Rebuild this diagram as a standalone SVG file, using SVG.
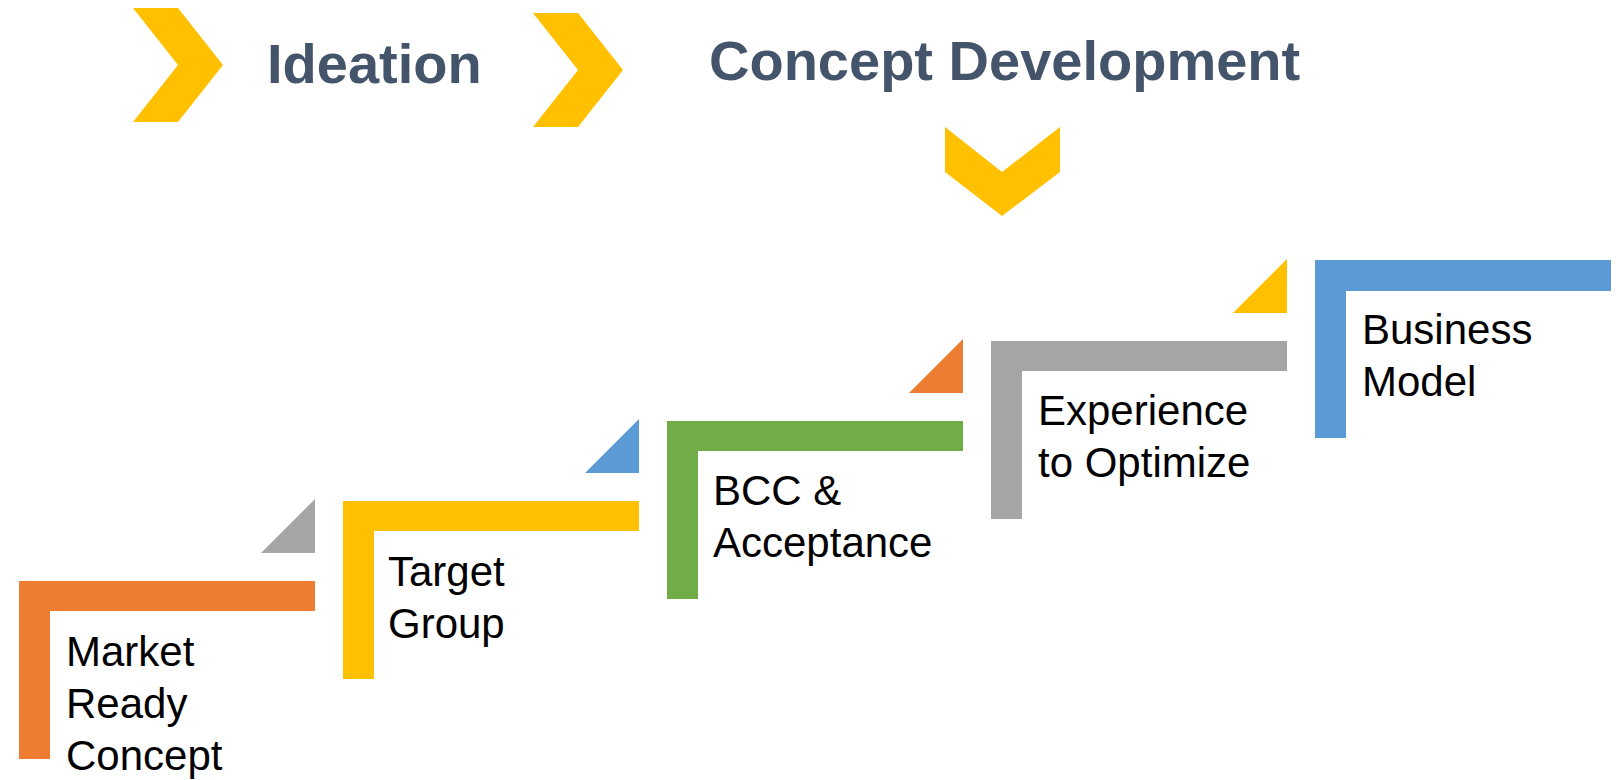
<svg xmlns="http://www.w3.org/2000/svg" width="1616" height="780" viewBox="0 0 1616 780">
<style>
.title{font-family:"Liberation Sans",Arial,sans-serif;font-weight:bold;font-size:56px;fill:#44546A}
.lbl{font-family:"Liberation Sans",Arial,sans-serif;font-size:42px;fill:#000}
.chev{fill:#FFC000}
.orange{fill:#ED7D31}.yellow{fill:#FFC000}.grey{fill:#A5A5A5}.blue{fill:#5B9BD5}.green{fill:#70AD47}
</style>
<rect width="1616" height="780" fill="#fff"/>
<g id="connectors">
<polygon class="chev" points="133,8 178,8 223,65 178,122 133,122 178,65"/>
<polygon class="chev" points="533,13 578,13 623,70 578,127 533,127 578,70"/>
<polygon class="chev" points="945,127 1002,172 1060,127 1060,172 1002,216 945,172"/>
<polygon class="grey" points="315,499 315,553 261,553"/>
<polygon class="blue" points="639,419 639,473 585,473"/>
<polygon class="orange" points="963,339 963,393 909,393"/>
<polygon class="yellow" points="1287,259 1287,313 1233,313"/>
</g>
<g id="ideation"><text class="title" x="267" y="83">Ideation</text></g>
<g id="concept-development"><text class="title" x="709" y="80">Concept Development</text></g>
<g id="market-ready-concept">
<path class="orange" d="M19,581 H315 V611 H50 V759 H19 Z"/>
<text class="lbl" x="66" y="666">Market<tspan x="66" dy="52">Ready</tspan><tspan x="66" dy="52">Concept</tspan></text>
</g>
<g id="target-group">
<path class="yellow" d="M343,501 H639 V531 H374 V679 H343 Z"/>
<text class="lbl" x="388" y="586">Target<tspan x="388" dy="52">Group</tspan></text>
</g>
<g id="bcc-acceptance">
<path class="green" d="M667,421 H963 V451 H698 V599 H667 Z"/>
<text class="lbl" x="713" y="505">BCC &amp;<tspan x="713" dy="52">Acceptance</tspan></text>
</g>
<g id="experience-to-optimize">
<path class="grey" d="M991,341 H1287 V371 H1022 V519 H991 Z"/>
<text class="lbl" x="1038" y="425">Experience<tspan x="1038" dy="52">to Optimize</tspan></text>
</g>
<g id="business-model">
<path class="blue" d="M1315,260 H1611 V291 H1346 V438 H1315 Z"/>
<text class="lbl" x="1362" y="344">Business<tspan x="1362" dy="52">Model</tspan></text>
</g>
</svg>
